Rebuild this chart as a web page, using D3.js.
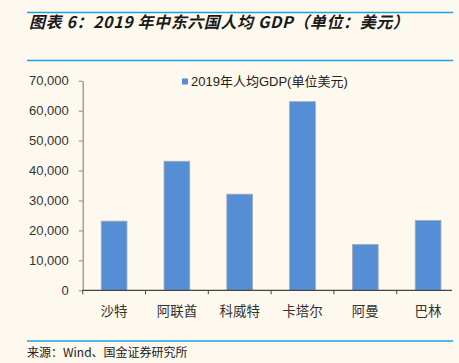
<!DOCTYPE html>
<html>
<head>
<meta charset="utf-8">
<script src="https://cdn.jsdelivr.net/npm/d3@7"></script>
<style>
  body { margin: 0; background: #fdf9ef; }
  text { font-family: "Liberation Sans", Arial, "Noto Sans CJK SC", sans-serif; }
</style>
</head>
<body>
<div id="canvas"></div>
<script>
"use strict"

/* chart data */
let countries = ["沙特", "阿联酋", "科威特", "卡塔尔", "阿曼", "巴林"];
let gdpPerCapita = [23100, 43100, 32100, 63000, 15300, 23300];
let yTicks = [0, 10000, 20000, 30000, 40000, 50000, 60000, 70000];
let seriesName = "2019年人均GDP(单位美元)";
let titleText = "图表 6：2019 年中东六国人均 GDP（单位：美元）";
let sourceText = "来源：Wind、国金证券研究所";

let drawing = d3.select("#canvas")
  .append("svg")
  .attr("width", 459)
  .attr("height", 363);

drawing.append("rect")
  .attr("width", 459)
  .attr("height", 363)
  .attr("fill", "#fdf9ef");

/* title + rules */
drawing.append("line")
  .attr("x1", 27).attr("x2", 453)
  .attr("y1", 12.5).attr("y2", 12.5)
  .attr("stroke", "#1aa3e0").attr("stroke-width", 1.5);

drawing.append("text")
  .attr("x", 29)
  .attr("y", 27.5)
  .attr("font-size", 16)
  .attr("font-weight", "bold")
  .attr("font-style", "italic")
  .attr("letter-spacing", 0.6)
  .attr("fill", "#1a1a1a")
  .style("font-family", "'Noto Sans CJK SC', sans-serif")
  .text(titleText);

drawing.append("line")
  .attr("x1", 27).attr("x2", 453)
  .attr("y1", 60.5).attr("y2", 60.5)
  .attr("stroke", "#1aa3e0").attr("stroke-width", 1.5);

drawing.append("line")
  .attr("x1", 27).attr("x2", 453)
  .attr("y1", 341).attr("y2", 341)
  .attr("stroke", "#1aa3e0").attr("stroke-width", 1.5);

drawing.append("text")
  .attr("x", 27)
  .attr("y", 357)
  .attr("font-size", 12)
  .attr("fill", "#222")
  .style("font-family", "'Noto Sans CJK SC', sans-serif")
  .text(sourceText);

/* scales */
let x = d3.scaleBand()
  .domain(countries)
  .range([82.7, 459.5])
  .paddingInner(0.59)
  .paddingOuter(0.295);

let y = d3.scaleLinear()
  .domain([0, 70000])
  .range([290.3, 80.7]);

/* bars */
drawing.selectAll(".bar")
  .data(countries)
  .enter()
  .append("rect")
  .attr("class", "bar")
  .attr("x", d => x(d))
  .attr("y", (d, i) => y(gdpPerCapita[i]))
  .attr("width", x.bandwidth())
  .attr("height", (d, i) => y(0) - y(gdpPerCapita[i]))
  .attr("fill", "#558ed5")
  .attr("stroke", "#a6aab0")
  .attr("stroke-width", 0.8);

/* y axis */
let yAxis = drawing.append("g")
  .attr("transform", "translate(82.7,0)")
  .call(d3.axisLeft(y).tickValues(yTicks).tickSize(4).tickSizeOuter(0)
    .tickFormat(d3.format(",")));
yAxis.select(".domain").attr("stroke", "#8a8a8a").attr("stroke-width", 1.2);
yAxis.selectAll(".tick line").attr("stroke", "#8a8a8a");
yAxis.selectAll(".tick text")
  .attr("x", -14)
  .attr("font-size", 13)
  .attr("fill", "#333");

/* x axis */
let xAxis = drawing.append("g")
  .attr("transform", "translate(0,290.3)");
xAxis.append("line")
  .attr("x1", 82.7).attr("x2", 452)
  .attr("stroke", "#444").attr("stroke-width", 1.2);
xAxis.selectAll(".xtick")
  .data(countries)
  .enter()
  .append("line")
  .attr("class", "xtick")
  .attr("x1", d => x(d) - x.step() * x.paddingInner() / 2)
  .attr("x2", d => x(d) - x.step() * x.paddingInner() / 2)
  .attr("y1", 0).attr("y2", 4)
  .attr("stroke", "#444");
xAxis.selectAll(".xlabel")
  .data(countries)
  .enter()
  .append("text")
  .attr("class", "xlabel")
  .attr("x", d => x(d) + x.bandwidth() / 2)
  .attr("y", 26)
  .attr("text-anchor", "middle")
  .attr("font-size", 13.5)
  .attr("fill", "#333")
  .style("font-family", "'Noto Sans CJK SC', sans-serif")
  .text(d => d);

/* legend */
drawing.append("rect")
  .attr("x", 182).attr("y", 78.5)
  .attr("width", 6).attr("height", 6)
  .attr("fill", "#558ed5");
drawing.append("text")
  .attr("x", 191)
  .attr("y", 86)
  .attr("font-size", 13)
  .attr("fill", "#222")
  .text(seriesName);
</script>
</body>
</html>
